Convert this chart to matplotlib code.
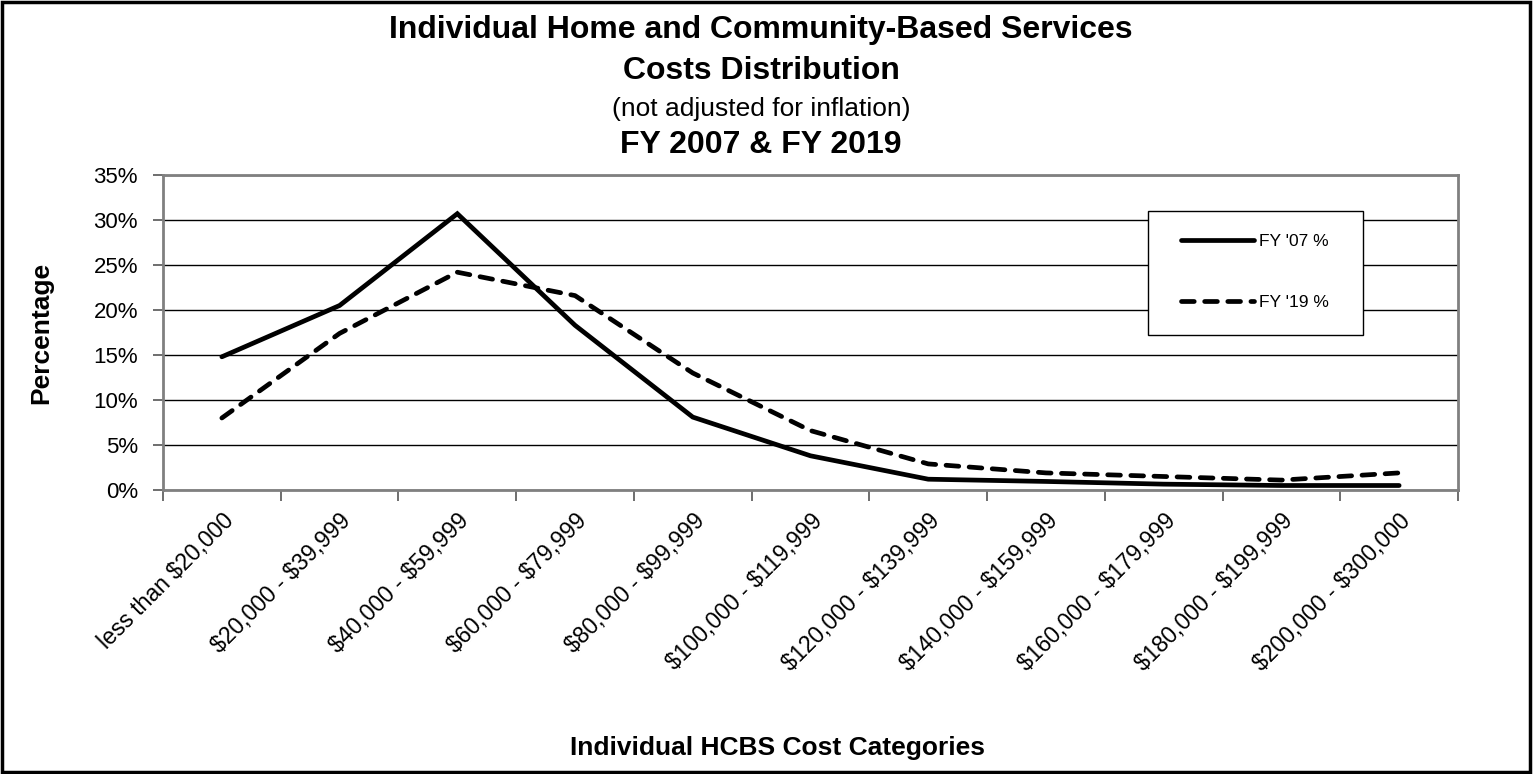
import matplotlib
matplotlib.use("Agg")
import matplotlib.pyplot as plt
from matplotlib.patches import Rectangle
import numpy as np

plt.rcParams['font.family'] = ['Liberation Sans', 'DejaVu Sans']

categories = ["less than $20,000", "$20,000 - $39,999", "$40,000 - $59,999",
              "$60,000 - $79,999", "$80,000 - $99,999", "$100,000 - $119,999",
              "$120,000 - $139,999", "$140,000 - $159,999", "$160,000 - $179,999",
              "$180,000 - $199,999", "$200,000 - $300,000"]
fy07 = [14.8, 20.5, 30.7, 18.3, 8.1, 3.8, 1.2, 0.95, 0.65, 0.5, 0.5]
fy19 = [8.0, 17.4, 24.2, 21.6, 13.0, 6.6, 2.9, 1.9, 1.5, 1.1, 1.9]

W, H = 1535, 774
# plot box in pixels: left, right, top, bottom
L, R, T, B = 163, 1458, 175, 490
fig = plt.figure(figsize=(W / 100, H / 100), dpi=100)
ax = fig.add_axes([L/W, 1 - B/H, (R-L)/W, (B-T)/H])

def ax_x(px):
    return (px - L) / (R - L)

def ax_y(py):
    return (B - py) / (B - T)

x = np.arange(len(categories))
ax.plot(x, fy07, color='k', lw=3.4, solid_capstyle='round', solid_joinstyle='miter', label="FY '07 %")
ax.plot(x, fy19, color='k', lw=3.4, dashes=(2.7, 2.2), dash_capstyle='round', label="FY '19 %")

ax.set_xlim(-0.5, len(categories) - 0.5)
ax.set_ylim(0, 35)
ax.set_yticks(np.arange(0, 36, 5))
ax.set_yticklabels(['{}%'.format(v) for v in range(0, 36, 5)], fontsize=16)
ax.set_xticks(x)
# escape dollar signs so they are not read as mathtext
ax.set_xticklabels([c.replace('$', r'\$') for c in categories], rotation=45, ha='right',
                   rotation_mode='anchor', fontsize=16.6)
ax.set_xticks(np.arange(-0.5, len(categories)), minor=True)
ax.tick_params(axis='x', which='major', length=0, pad=14)
ax.tick_params(axis='x', which='minor', length=8, width=1.2, color='#555555', direction='out')
ax.tick_params(axis='y', length=7, width=1.2, color='#555555', direction='out', pad=11)

ax.yaxis.grid(True, color='k', lw=1.0)
ax.set_axisbelow(True)
for s in ax.spines.values():
    s.set_color('#808080')
    s.set_linewidth(2)

ax.set_ylabel('Percentage', fontsize=19, fontweight='bold')
ax.yaxis.set_label_coords(ax_x(53), 0.5)
ax.set_xlabel('Individual HCBS Cost Categories', fontsize=19, fontweight='bold')
ax.xaxis.set_label_coords(ax_x(777), ax_y(748))
ax.xaxis.label.set_va('center')

# legend box drawn separately so the padding can differ left/right
ax.add_patch(Rectangle((ax_x(1148), ax_y(335)), ax_x(1363) - ax_x(1148), ax_y(211) - ax_y(335),
                       transform=ax.transAxes, facecolor='white', edgecolor='k', lw=1, zorder=4))
leg = ax.legend(loc='center left', bbox_to_anchor=(ax_x(1181), ax_y(272)),
                frameon=False, fontsize=12.5, handlelength=4.2,
                labelspacing=2.6, borderpad=0, handletextpad=0.3, borderaxespad=0)
leg.set_zorder(5)

cx = 761 / W
fig.text(cx, 1 - 30/H, 'Individual Home and Community-Based Services', ha='center', va='center',
         fontsize=23, fontweight='bold')
fig.text(cx, 1 - 71/H, 'Costs Distribution', ha='center', va='center', fontsize=23, fontweight='bold')
fig.text(cx, 1 - 109/H, '(not adjusted for inflation)', ha='center', va='center', fontsize=19)
fig.text(cx, 1 - 145/H, 'FY 2007 & FY 2019', ha='center', va='center', fontsize=23, fontweight='bold')

fig.add_artist(Rectangle((0.001, 0.002), 0.996, 0.996, transform=fig.transFigure,
                         fill=False, edgecolor='k', lw=2.5))

fig.savefig('out.png', dpi=100)
